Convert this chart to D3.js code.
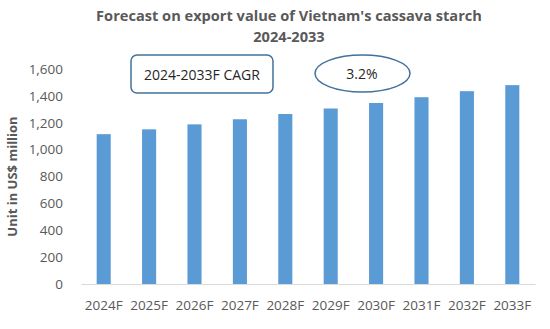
<!DOCTYPE html>
<html>
<head>
<meta charset="utf-8">
<script src="https://cdn.jsdelivr.net/npm/d3@7"></script>
<style>
  body { margin: 0; background: #fff; }
  text { font-family: "Open Sans", sans-serif; }
</style>
</head>
<body>
<script>
const width = 550;
const height = 329;
const margin = { top: 69, right: 15, bottom: 45, left: 81 };

const years = ["2024F", "2025F", "2026F", "2027F", "2028F", "2029F", "2030F", "2031F", "2032F", "2033F"];
const values = [1115, 1151, 1188, 1226, 1265, 1306, 1347, 1390, 1435, 1480];
const yTicks = [0, 200, 400, 600, 800, 1000, 1200, 1400, 1600];
const titleLines = ["Forecast on export value of Vietnam's cassava starch", "2024-2033"];
const cagrLabel = "2024-2033F CAGR";
const cagrValue = "3.2%";

const svg = d3
  .select("body")
  .append("svg")
  .attr("width", width)
  .attr("height", height);

const x = d3
  .scaleBand()
  .domain(years)
  .range([margin.left, width - margin.right])
  .paddingInner(0.69)
  .paddingOuter(0.345);

const y = d3
  .scaleLinear()
  .domain([0, 1600])
  .range([height - margin.bottom, margin.top]);

// titulo
svg
  .append("g")
  .selectAll("text")
  .data(titleLines)
  .join("text")
  .attr("x", 289)
  .attr("y", (d, i) => 21 + i * 21)
  .attr("text-anchor", "middle")
  .attr("font-size", 14.6)
  .attr("font-weight", "bold")
  .attr("fill", "#595959")
  .text((d) => d);

// eje y
const ejeY = svg
  .append("g")
  .attr("transform", `translate(${margin.left}, 0)`)
  .call(d3.axisLeft(y).tickValues(yTicks).tickFormat(d3.format(",")).tickSize(0).tickPadding(18));
ejeY.select(".domain").remove();
ejeY.selectAll("text").attr("font-size", 13.5).attr("fill", "#595959").attr("font-family", "Open Sans, sans-serif");

// eje x
const ejeX = svg
  .append("g")
  .attr("transform", `translate(0, ${height - margin.bottom})`)
  .call(d3.axisBottom(x).tickSize(0).tickPadding(16));
ejeX.select(".domain").attr("stroke", "#d9d9d9");
ejeX.selectAll("text").attr("font-size", 13.5).attr("fill", "#595959").attr("font-family", "Open Sans, sans-serif");

// barras
svg
  .append("g")
  .selectAll("rect")
  .data(values)
  .join("rect")
  .attr("x", (d, i) => x(years[i]))
  .attr("y", (d) => y(d))
  .attr("width", x.bandwidth())
  .attr("height", (d) => y(0) - y(d))
  .attr("fill", "#5b9bd5");

// titulo eje y
svg
  .append("text")
  .attr("transform", `translate(17, ${(y(0) + y(1600)) / 2}) rotate(-90)`)
  .attr("text-anchor", "middle")
  .attr("font-size", 13)
  .attr("font-weight", "bold")
  .attr("fill", "#595959")
  .text("Unit in US$ million");

// caja CAGR
svg
  .append("rect")
  .attr("x", 131)
  .attr("y", 55)
  .attr("width", 142)
  .attr("height", 38)
  .attr("rx", 6)
  .attr("fill", "#fff")
  .attr("stroke", "#41719c")
  .attr("stroke-width", 1.5);

svg
  .append("text")
  .attr("x", 202)
  .attr("y", 79.5)
  .attr("text-anchor", "middle")
  .attr("font-size", 14)
  .attr("fill", "#262626")
  .text(cagrLabel);

svg
  .append("ellipse")
  .attr("cx", 362.5)
  .attr("cy", 73.5)
  .attr("rx", 47.5)
  .attr("ry", 18.5)
  .attr("fill", "#fff")
  .attr("stroke", "#41719c")
  .attr("stroke-width", 1.5);

svg
  .append("text")
  .attr("x", 362)
  .attr("y", 79)
  .attr("text-anchor", "middle")
  .attr("font-size", 14)
  .attr("fill", "#262626")
  .text(cagrValue);
</script>
</body>
</html>
